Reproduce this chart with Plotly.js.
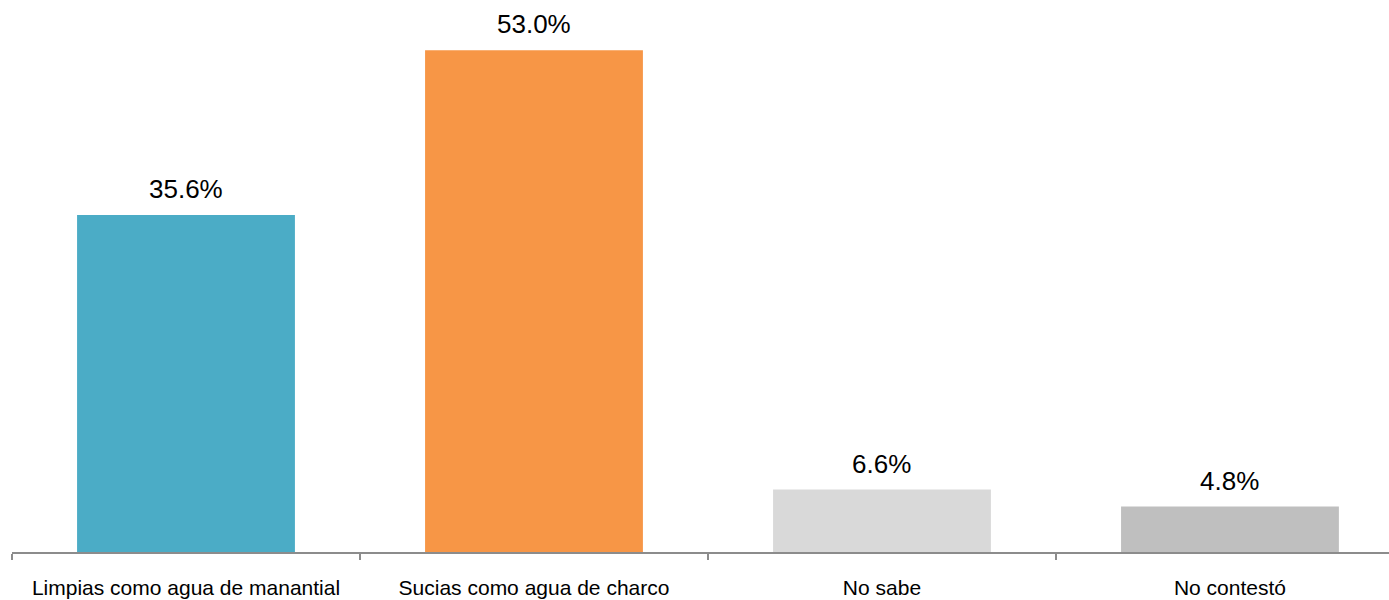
<!DOCTYPE html>
<html>
<head>
<meta charset="utf-8">
<script src="https://cdn.plot.ly/plotly-3.0.1.min.js"></script>
<style>html,body{margin:0;padding:0;background:#fff;}#chart{width:1389px;height:600px;}</style>
</head>
<body>
<div id="chart"></div>
<script>
var categories = ["Limpias como agua de manantial", "Sucias como agua de charco", "No sabe", "No contestó"];
var values = [35.6, 53.0, 6.6, 4.8];
var colors = ["#4BACC6", "#F79646", "#D9D9D9", "#BFBFBF"];

var fontFam = "Liberation Sans, Arial, sans-serif";

var trace = {
  type: "bar",
  x: categories,
  y: values,
  marker: {color: colors, line: {width: 0}},
  hoverinfo: "none"
};

var annotations = categories.map(function(c, i) {
  return {
    x: c, y: values[i], xref: "x", yref: "y",
    text: values[i].toFixed(1) + "%",
    showarrow: false, yanchor: "bottom", yshift: 9,
    font: {family: fontFam, size: 26, color: "#000"}
  };
});

var layout = {
  width: 1389, height: 600,
  margin: {l: 12, r: 0, t: 0, b: 48},
  paper_bgcolor: "#fff", plot_bgcolor: "#fff",
  showlegend: false,
  bargap: 0.374,
  xaxis: {
    type: "category",
    range: [-0.5, 3.457],
    showline: true, linecolor: "#8c8c8c", linewidth: 1.5,
    ticks: "outside", tickson: "boundaries", ticklen: 6, tickcolor: "#8c8c8c", tickwidth: 1.5,
    ticklabelstandoff: 16,
    tickfont: {family: fontFam, size: 21, color: "#000"},
    showgrid: false, zeroline: false, fixedrange: true
  },
  yaxis: {
    range: [0, 58.3], visible: false, showgrid: false, zeroline: false, fixedrange: true
  },
  annotations: annotations
};

Plotly.newPlot("chart", [trace], layout, {displayModeBar: false, staticPlot: true});
</script>
</body>
</html>
